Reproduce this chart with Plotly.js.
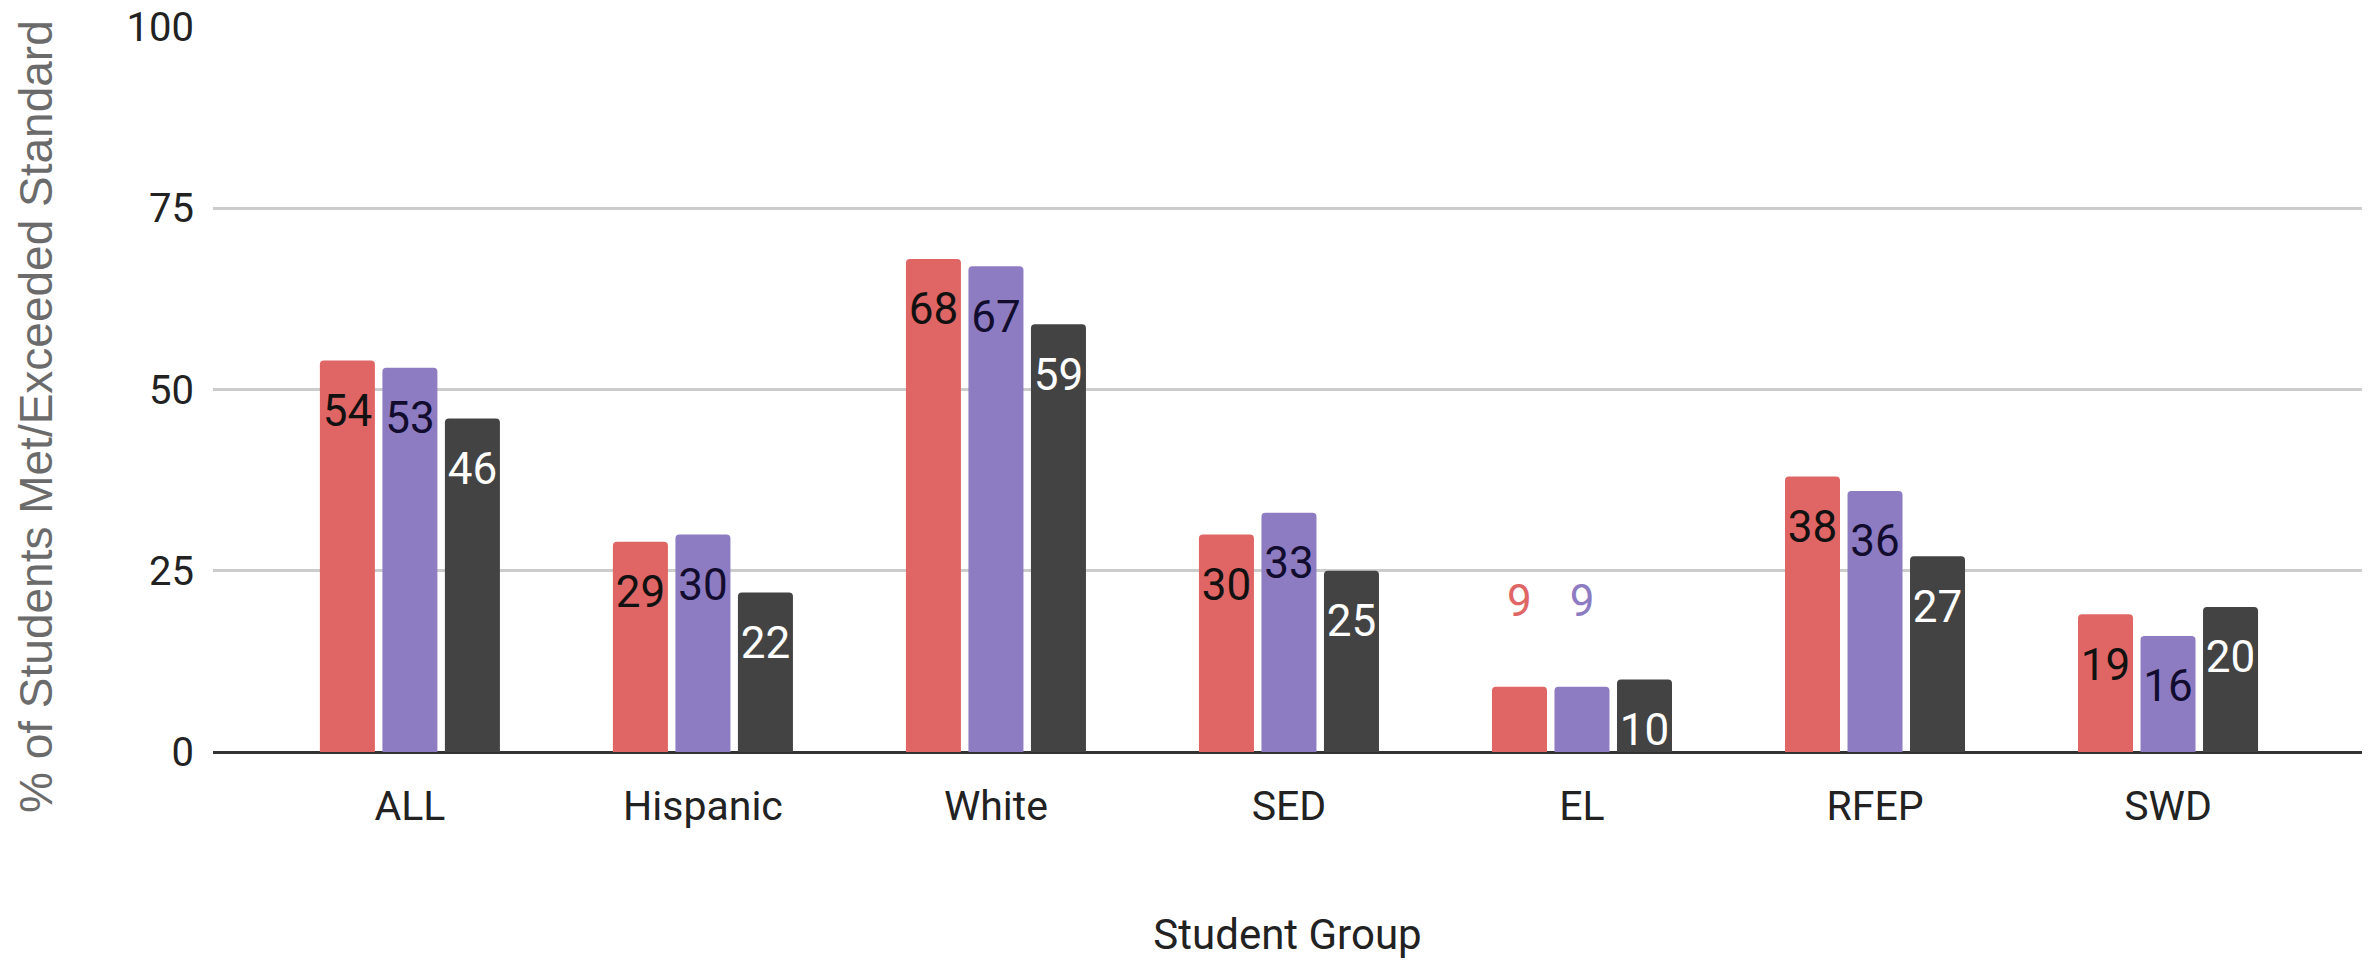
<!DOCTYPE html>
<html>
<head>
<meta charset="utf-8">
<script src="https://cdn.plot.ly/plotly-3.0.1.min.js"></script>
<style>html,body{margin:0;padding:0;background:#fff;}#chart{width:2372px;height:964px;}</style>
</head>
<body>
<div id="chart"></div>
<script>
// ---- data ----
const categories = ["ALL", "Hispanic", "White", "SED", "EL", "RFEP", "SWD"];
const seriesA = [54, 29, 68, 30, 9, 38, 19];
const seriesB = [53, 30, 67, 33, 9, 36, 16];
const seriesC = [46, 22, 59, 25, 10, 27, 20];
const yTicks = [0, 25, 50, 75, 100];
const yTickLabels = ["0", "25", "50", "75", "100"];
const xTitle = "Student Group";
const yTitle = "% of Students Met/Exceeded Standard";

// ---- styles ----
const colors = ["#e06666", "#8e7cc3", "#434343"];
const insideColors = ["#111111", "#120c2e", "#ffffff"];
const labelFont = "Roboto, sans-serif";
const labelSize = 44;
const GAP = 0.36;

// labels that Google placed above the bar (too short for an inside label)
function isOutside(v, i) { return v < 10 && i < 2; }

function barTrace(vals, i) {
  return {
    type: "bar",
    x: categories,
    y: vals,
    offsetgroup: "g" + i,
    marker: { color: colors[i], line: { width: 0 } },
    texttemplate: vals.map(v => isOutside(v, i) ? "%{y}<br>&nbsp;" : ""),
    textposition: "outside",
    textangle: 0,
    constraintext: "none",
    cliponaxis: false,
    outsidetextfont: { family: labelFont, size: labelSize, color: colors[i] },
    hoverinfo: "x+y",
    showlegend: false
  };
}

// inside-end labels, set a little below the bar top as in the reference
function labelTrace(vals, i) {
  return {
    type: "scatter",
    mode: "markers+text",
    x: categories,
    y: vals,
    offsetgroup: "g" + i,
    text: vals.map(v => isOutside(v, i) ? "" : String(v)),
    textposition: "bottom center",
    textfont: { family: labelFont, size: labelSize, color: insideColors[i] },
    marker: { size: 50, color: "rgba(0,0,0,0)", line: { width: 0 } },
    cliponaxis: false,
    hoverinfo: "skip",
    showlegend: false
  };
}

const data = [seriesA, seriesB, seriesC].map(barTrace)
  .concat([seriesA, seriesB, seriesC].map(labelTrace));

const layout = {
  width: 2372,
  height: 964,
  margin: { l: 213, r: 10, t: 27, b: 212, pad: 0 },
  paper_bgcolor: "#ffffff",
  plot_bgcolor: "#ffffff",
  barmode: "group",
  bargap: GAP,
  bargroupgap: 0.12,
  scattermode: "group",
  scattergap: GAP,
  barcornerradius: 4,
  showlegend: false,
  font: { family: labelFont, color: "#222222" },
  xaxis: {
    type: "category",
    range: [-0.672, 6.662],
    showgrid: false,
    showline: false,
    zeroline: false,
    ticks: "",
    ticklabelstandoff: 26,
    tickfont: { family: labelFont, size: 41, color: "#222222" },
    title: { text: xTitle, font: { family: labelFont, size: 42, color: "#222222" }, standoff: 90 }
  },
  yaxis: {
    range: [0, 100],
    tickvals: yTicks,
    ticktext: yTickLabels,
    showgrid: true,
    gridcolor: "#cccccc",
    gridwidth: 3,
    zeroline: true,
    zerolinecolor: "#333333",
    zerolinewidth: 3,
    showline: false,
    ticks: "",
    ticklabelstandoff: 18,
    tickfont: { family: labelFont, size: 40, color: "#222222" }
  },
  annotations: [{
    text: yTitle,
    xref: "paper", yref: "paper",
    x: -0.0824, y: 0.4634,
    xanchor: "center", yanchor: "middle",
    textangle: -90,
    showarrow: false,
    font: { family: "Liberation Sans, Arial, sans-serif", size: 46, color: "#6b6b6b" }
  }]
};

Plotly.newPlot("chart", data, layout, { staticPlot: true, displayModeBar: false });
</script>
</body>
</html>
